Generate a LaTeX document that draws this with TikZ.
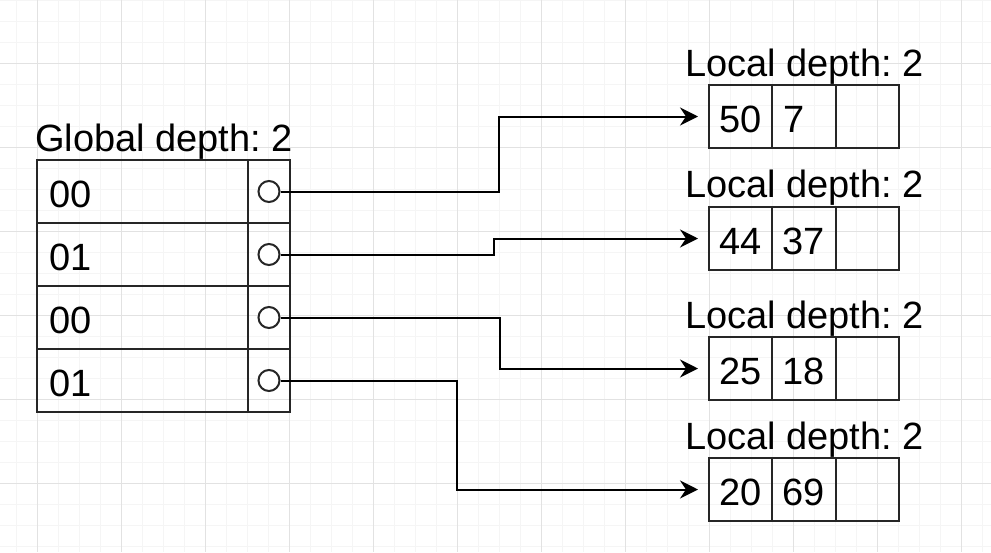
\documentclass[tikz,border=0pt]{standalone}
\usepackage{fontspec}
\setmainfont{Liberation Sans}
\usetikzlibrary{positioning,arrows.meta}
\definecolor{gridminor}{RGB}{245,245,245}
\definecolor{gridmajor}{RGB}{226,226,226}
\frenchspacing

\begin{document}
\begin{tikzpicture}[x=1pt, y=-1pt,
  bigfont/.style={font=\fontsize{38}{41}\selectfont},
  keycell/.style={draw=black!85, line width=2pt, inner sep=0pt, outer sep=0pt, inner xsep=12pt, text width=187pt, align=left, minimum height=63pt, text height=32pt, text depth=0pt, bigfont},
  ptrcell/.style={draw=black!85, line width=2pt, inner sep=0pt, outer sep=0pt, minimum width=42pt, minimum height=63pt},
  ptr/.style={circle, draw=black!85, line width=2pt, inner sep=0pt, minimum size=21pt, fill=white},
  bcell/.style={draw=black!85, line width=2pt, inner sep=0pt, outer sep=0pt, minimum width=63.3pt, minimum height=63pt, text height=32pt, text depth=0pt, bigfont},
  depthlabel/.style={anchor=base west, inner sep=0pt, bigfont},
  link/.style={-{Stealth[length=18pt, width=18pt, inset=6pt]}, line width=2pt, shorten >=11pt}]
  \useasboundingbox (0,0) rectangle (991,552);
  \fill[white] (0,0) rectangle (991,552);
  % background grid
  \foreach \gx in {16,37,...,991} \draw[gridminor, line width=1pt] (\gx,0) -- (\gx,552);
  \foreach \gy in {0,21,...,552} \draw[gridminor, line width=1pt] (0,\gy) -- (991,\gy);
  \foreach \gx in {37,121,...,991} \draw[gridmajor, line width=1pt] (\gx,0) -- (\gx,552);
  \foreach \gy in {63,147,...,552} \draw[gridmajor, line width=1pt] (0,\gy) -- (991,\gy);

  % directory
  \node[depthlabel] (gd) at (35,151) {Global depth: 2};
  \node[keycell, anchor=north west] (k0) at (37,160) {00};
  \node[keycell, below=0pt of k0] (k1) {01};
  \node[keycell, below=0pt of k1] (k2) {00};
  \node[keycell, below=0pt of k2] (k3) {01};
  \node[ptrcell, right=0pt of k0] (c0) {};
  \node[ptrcell, right=0pt of k1] (c1) {};
  \node[ptrcell, right=0pt of k2] (c2) {};
  \node[ptrcell, right=0pt of k3] (c3) {};
  \node[ptr] (p0) at (c0.center) {};
  \node[ptr] (p1) at (c1.center) {};
  \node[ptr] (p2) at (c2.center) {};
  \node[ptr] (p3) at (c3.center) {};

  % buckets
  \node[depthlabel] (ld1) at (685,76) {Local depth: 2};
  \node[bcell, anchor=north west] (b1a) at (709,85) {50};
  \node[bcell, right=0pt of b1a] (b1b) {7\kern19pt};
  \node[bcell, right=0pt of b1b] (b1c) {};
  \node[depthlabel] (ld2) at (685,197) {Local depth: 2};
  \node[bcell, anchor=north west] (b2a) at (709,207) {44};
  \node[bcell, right=0pt of b2a] (b2b) {37};
  \node[bcell, right=0pt of b2b] (b2c) {};
  \node[depthlabel] (ld3) at (685,328) {Local depth: 2};
  \node[bcell, anchor=north west] (b3a) at (709,337) {25};
  \node[bcell, right=0pt of b3a] (b3b) {18};
  \node[bcell, right=0pt of b3b] (b3c) {};
  \node[depthlabel] (ld4) at (685,449) {Local depth: 2};
  \node[bcell, anchor=north west] (b4a) at (709,458) {20};
  \node[bcell, right=0pt of b4a] (b4b) {69};
  \node[bcell, right=0pt of b4b] (b4c) {};

  % pointers
  \coordinate (j0) at (499,0);
  \coordinate (j1) at (494,0);
  \coordinate (j2) at (500,0);
  \coordinate (j3) at (457,0);
  \draw[link] (p0.east) -- (p0.east -| j0) |- (b1a.west);
  \draw[link] (p1.east) -- (p1.east -| j1) |- (b2a.west);
  \draw[link] (p2.east) -- (p2.east -| j2) |- (b3a.west);
  \draw[link] (p3.east) -- (p3.east -| j3) |- (b4a.west);
\end{tikzpicture}
\end{document}
